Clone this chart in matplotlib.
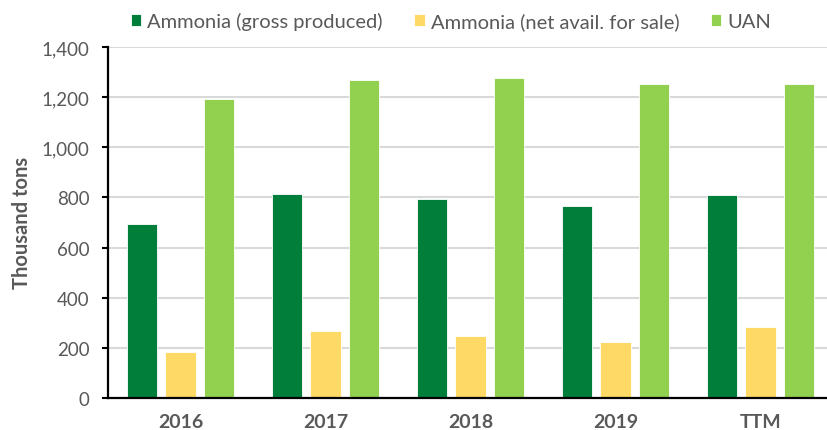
import matplotlib
matplotlib.use('Agg')
import matplotlib.pyplot as plt
import numpy as np
from matplotlib.ticker import FuncFormatter

plt.rcParams['font.family'] = ['Lato', 'DejaVu Sans']

# data (thousand tons)
categories = ['2016', '2017', '2018', '2019', 'TTM']
ammonia_gross = [694, 814, 793, 765, 811]
ammonia_net = [184, 267, 246, 222, 282]
uan = [1193, 1268, 1276, 1254, 1253]

series_names = ['Ammonia (gross produced)', 'Ammonia (net avail. for sale)', 'UAN']
colors = ['#007E3A', '#FFD966', '#92D050']

fig = plt.figure(figsize=(8.27, 4.31), dpi=100)
ax = fig.add_axes([108 / 827, 32 / 431, 725 / 827, 351 / 431])

x = np.arange(len(categories))
width = 0.207
step = 0.265
for i, (vals, name, c) in enumerate(zip([ammonia_gross, ammonia_net, uan], series_names, colors)):
    ax.bar(x + (i - 1) * step, vals, width, color=c, label=name, zorder=3,
           edgecolor='white', linewidth=0.6)

ax.set_xlim(-0.5, 4.5)
ax.set_ylim(0, 1400)
ax.set_yticks(range(0, 1401, 200))
ax.yaxis.set_major_formatter(FuncFormatter(lambda v, p: '{:,.0f}'.format(v)))
ax.grid(axis='y', color='#D9D9D9', linewidth=1.5, zorder=0)
ax.set_axisbelow(True)

for s in ['top', 'right']:
    ax.spines[s].set_visible(False)
ax.spines['left'].set_linewidth(1.6)
ax.spines['bottom'].set_linewidth(1.6)
ax.spines['left'].set_zorder(4)
ax.spines['bottom'].set_zorder(4)

ax.set_xticks(x)
ax.set_xticklabels(categories, fontweight='bold')
ax.tick_params(axis='x', length=0, pad=11, labelsize=14, labelcolor='#595959')
ax.tick_params(axis='y', length=4.5, width=1.5, pad=9, labelsize=13.5, labelcolor='#595959')

fig.text(22 / 827, 0.483, 'Thousand tons', rotation=90, ha='center', va='center',
         fontsize=14.5, fontweight='bold', color='#595959')

leg = fig.legend(loc='center', bbox_to_anchor=(451 / 827, 1 - 22 / 431), ncol=3,
                 frameon=False, fontsize=14.5, handlelength=0.5, handleheight=0.5,
                 handletextpad=0.3, columnspacing=1.6, labelcolor='#595959')

fig.savefig('out.png', dpi=100)
